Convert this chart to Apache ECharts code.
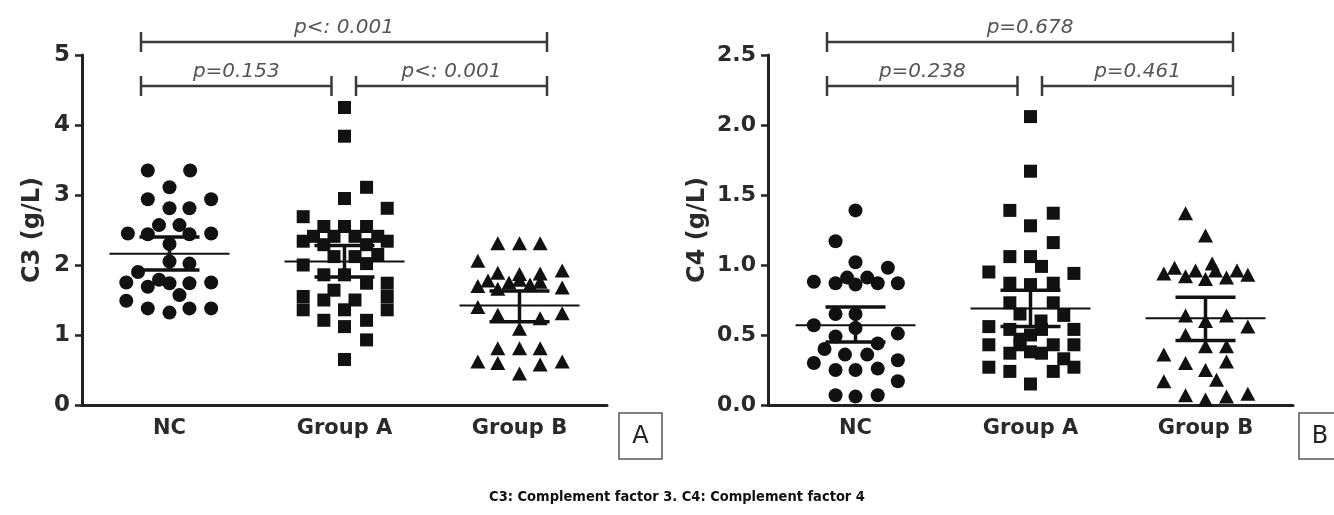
<!DOCTYPE html>
<html>
<head>
<meta charset="utf-8">
<script src="https://cdn.jsdelivr.net/npm/echarts@6/dist/echarts.min.js"></script>
<style>
  html, body { margin: 0; padding: 0; background: #fff; }
  #chart { width: 1334px; height: 515px; }
</style>
</head>
<body>
<div id="chart"></div>
<script>
// ---------- data ----------
const categories = ['NC', 'Group A', 'Group B'];

// [horizontal jitter (fraction of a category), value]
const c3NC = [
  [-0.124,3.35],[0.118,3.35],[0,3.11],[-0.124,2.94],[0.238,2.94],[0,2.81],[0.114,2.81],
  [-0.06,2.57],[0.057,2.57],[-0.238,2.45],[-0.124,2.44],[0.114,2.44],[0.238,2.45],
  [0,2.30],[0.114,2.02],[0,2.05],[-0.18,1.90],[-0.247,1.75],[-0.06,1.79],[-0.124,1.69],
  [0,1.74],[0.114,1.74],[0.238,1.75],[0.057,1.57],[-0.247,1.49],[-0.124,1.38],[0,1.32],
  [0.114,1.38],[0.238,1.38]
];
const c3A = [
  [0,4.25],[0,3.84],[0.126,3.11],[0,2.95],[0.244,2.81],[-0.236,2.69],
  [-0.118,2.55],[0,2.55],[0.126,2.55],
  [-0.177,2.41],[-0.06,2.41],[0.06,2.41],[0.19,2.41],
  [-0.236,2.34],[0.244,2.34],[-0.118,2.29],[0.126,2.29],
  [-0.06,2.12],[0.06,2.12],[0.19,2.15],
  [-0.236,2.00],[0.126,2.02],[-0.118,1.86],[0,1.86],[0.126,1.74],[0.244,1.74],[-0.06,1.64],
  [-0.236,1.55],[-0.236,1.36],[-0.118,1.50],[0.06,1.50],[0.244,1.55],[0,1.36],[0.244,1.36],
  [-0.118,1.21],[0.126,1.21],[0,1.12],[0.126,0.93],[0,0.65]
];
const c3B = [
  [-0.124,2.31],[0,2.31],[0.118,2.31],[-0.238,2.06],
  [-0.124,1.89],[0,1.87],[0.118,1.88],[0.244,1.92],
  [-0.238,1.70],[-0.18,1.78],[-0.124,1.66],[-0.06,1.75],[0,1.79],[0.06,1.72],[0.118,1.76],[0.244,1.68],
  [-0.238,1.40],[0.244,1.31],[-0.124,1.29],[0.118,1.24],[0,1.09],
  [-0.124,0.81],[0,0.81],[0.118,0.81],[-0.238,0.62],[0.244,0.62],[-0.124,0.60],[0.118,0.58],[0,0.45]
];
const c4NC = [
  [0,1.39],[-0.114,1.17],[0,1.02],[0.185,0.98],[-0.238,0.88],
  [-0.114,0.87],[-0.048,0.91],[0,0.86],[0.067,0.91],[0.127,0.87],[0.242,0.87],
  [-0.114,0.65],[0,0.65],[-0.238,0.57],[0,0.55],[0.242,0.51],[-0.114,0.49],[0.127,0.44],
  [-0.177,0.40],[-0.06,0.36],[0.067,0.36],[-0.238,0.30],[0.242,0.32],
  [-0.114,0.25],[0,0.25],[0.127,0.26],[0.242,0.17],[-0.114,0.07],[0,0.06],[0.127,0.07]
];
const c4A = [
  [0,2.06],[0,1.67],[-0.118,1.39],[0.13,1.37],[0,1.28],[0.13,1.16],
  [-0.118,1.06],[0,1.06],[0.063,0.99],[-0.238,0.95],[0.248,0.94],
  [-0.118,0.87],[0,0.86],[0.13,0.87],
  [-0.118,0.73],[0.13,0.73],[-0.06,0.65],[0.19,0.64],[0.06,0.60],
  [-0.238,0.56],[-0.118,0.54],[0.063,0.54],[0.248,0.54],[0,0.50],
  [-0.06,0.47],[-0.238,0.43],[-0.06,0.43],[0.13,0.43],[0.248,0.43],
  [-0.118,0.37],[0,0.38],[0.063,0.37],[0.19,0.33],
  [-0.238,0.27],[0.248,0.27],[-0.118,0.24],[0.13,0.24],[0,0.15]
];
const c4B = [
  [-0.114,1.37],[0,1.21],
  [-0.238,0.94],[-0.177,0.98],[-0.114,0.92],[-0.057,0.96],[0,0.90],[0.038,1.01],[0.057,0.96],[0.12,0.91],[0.18,0.96],[0.242,0.93],
  [-0.114,0.64],[0.12,0.64],[0,0.60],[0.242,0.56],[-0.114,0.50],[0,0.42],[0.12,0.42],
  [-0.238,0.36],[0.12,0.31],[-0.114,0.30],[0,0.25],[0.063,0.18],[-0.238,0.17],
  [-0.114,0.07],[0,0.04],[0.12,0.06],[0.242,0.08]
];

// [mean, lower, upper] per category
const c3Stats = [[2.16,1.93,2.40],[2.05,1.83,2.28],[1.42,1.19,1.63]];
const c4Stats = [[0.57,0.45,0.70],[0.69,0.56,0.82],[0.62,0.46,0.77]];

// significance brackets: [from, to, text]
const c3Pairs = [['NC','Group B','p<: 0.001'],['NC','Group A','p=0.153'],['Group A','Group B','p<: 0.001']];
const c4Pairs = [['NC','Group B','p=0.678'],['NC','Group A','p=0.238'],['Group A','Group B','p=0.461']];

const c3Ticks = { min: 0, max: 5, interval: 1 };
const c4Ticks = { min: 0, max: 2.5, interval: 0.5 };

// ---------- styles ----------
const FONT = '"DejaVu Sans", "Liberation Sans", Arial, sans-serif';
const INK = '#111111';
const symbols = ['circle', 'rect', 'triangle'];
const symbolSizes = [14, 13, [15, 14]];

const chart = echarts.init(document.getElementById('chart'), null, { renderer: 'canvas' });

function catAxis(grid) {
  return {
    gridIndex: grid, type: 'category', data: categories, boundaryGap: true,
    axisLine: { lineStyle: { color: '#222', width: 3 } },
    axisTick: { alignWithLabel: true, length: 7, lineStyle: { color: '#222', width: 2.5 } },
    axisLabel: { margin: 13, color: '#2a2a2a', fontFamily: FONT, fontWeight: 'bold', fontSize: 21 },
    splitLine: { show: false }
  };
}
function valAxisX(grid) {
  return { gridIndex: grid, type: 'value', min: 0, max: 3, show: false };
}
function yAxis(grid, ticks, name, gap, fontSize, dec) {
  return {
    gridIndex: grid, type: 'value', min: ticks.min, max: ticks.max, interval: ticks.interval,
    name: name, nameLocation: 'middle', nameGap: gap, nameRotate: 90,
    nameTextStyle: { color: '#2a2a2a', fontFamily: FONT, fontWeight: 'bold', fontSize: 24 },
    axisLine: { show: true, lineStyle: { color: '#222', width: 3 } },
    axisTick: { show: true, length: 7, lineStyle: { color: '#222', width: 2.5 } },
    axisLabel: { margin: 12, color: '#2a2a2a', fontFamily: FONT, fontWeight: 'bold', fontSize: fontSize,
      formatter: v => v.toFixed(dec) },
    splitLine: { show: false }
  };
}

function scatterSeries(data, cat, xIdx, yIdx) {
  return {
    type: 'scatter', xAxisIndex: xIdx, yAxisIndex: yIdx, silent: true,
    symbol: symbols[cat], symbolSize: symbolSizes[cat],
    itemStyle: { color: INK, opacity: 1 },
    data: data.map(d => [cat + 0.5 + d[0], d[1]]),
    z: 2
  };
}

function statSeries(stats, xIdx, yIdx) {
  return {
    type: 'custom', xAxisIndex: xIdx, yAxisIndex: yIdx, silent: true, z: 3,
    data: stats.map((s, i) => [i + 0.5, s[0], s[1], s[2]]),
    encode: { x: 0, y: 1 },
    renderItem: function (params, api) {
      const x = api.value(0);
      const m = api.coord([x, api.value(1)]);
      const lo = api.coord([x, api.value(2)]);
      const hi = api.coord([x, api.value(3)]);
      const st = { stroke: INK, lineWidth: 3.5 };
      return { type: 'group', children: [
        { type: 'line', shape: { x1: m[0] - 60, y1: m[1], x2: m[0] + 60, y2: m[1] }, style: { stroke: INK, lineWidth: 2 } },
        { type: 'line', shape: { x1: m[0], y1: hi[1], x2: m[0], y2: lo[1] }, style: st },
        { type: 'line', shape: { x1: m[0] - 30, y1: hi[1], x2: m[0] + 30, y2: hi[1] }, style: st },
        { type: 'line', shape: { x1: m[0] - 30, y1: lo[1], x2: m[0] + 30, y2: lo[1] }, style: st }
      ] };
    }
  };
}

function bracketSeries(pairs, ticks, xIdx, yIdx) {
  return {
    type: 'custom', xAxisIndex: xIdx, yAxisIndex: yIdx, silent: true, clip: false, z: 4,
    data: pairs.map(p => [categories.indexOf(p[0]) + 0.5, ticks.max]),
    encode: { x: 0, y: 1 },
    renderItem: function (params, api) {
      const p = pairs[params.dataIndex];
      const a = categories.indexOf(p[0]), b = categories.indexOf(p[1]);
      const pa = api.coord([a + 0.5, ticks.max]);
      const pb = api.coord([b + 0.5, ticks.max]);
      const top = (b - a) === 2;
      const y = top ? pa[1] - 13 : pa[1] + 31;
      const x1 = pa[0] + (a === 0 ? -28.5 : 11.5);
      const x2 = pb[0] + (b === 2 ? 27.5 : -13);
      const st = { stroke: '#3a3a3a', lineWidth: 2.5 };
      return { type: 'group', children: [
        { type: 'line', shape: { x1: x1, y1: y, x2: x2, y2: y }, style: st },
        { type: 'line', shape: { x1: x1, y1: y - 10, x2: x1, y2: y + 10 }, style: st },
        { type: 'line', shape: { x1: x2, y1: y - 10, x2: x2, y2: y + 10 }, style: st },
        { type: 'text', style: { text: p[2], x: (x1 + x2) / 2, y: y - 4, align: 'center', verticalAlign: 'bottom',
          font: 'italic 20px ' + FONT, fill: '#555' } }
      ] };
    }
  };
}

const option = {
  backgroundColor: '#ffffff',
  animation: false,
  grid: [
    { left: 82, top: 55, width: 525, height: 350 },
    { left: 768, top: 55, width: 525, height: 350 }
  ],
  xAxis: [catAxis(0), valAxisX(0), catAxis(1), valAxisX(1)],
  yAxis: [
    yAxis(0, c3Ticks, 'C3 (g/L)', 37, 23, 0),
    yAxis(1, c4Ticks, 'C4 (g/L)', 58, 22, 1)
  ],
  series: [
    scatterSeries(c3NC, 0, 1, 0),
    scatterSeries(c3A, 1, 1, 0),
    scatterSeries(c3B, 2, 1, 0),
    statSeries(c3Stats, 1, 0),
    bracketSeries(c3Pairs, c3Ticks, 1, 0),
    scatterSeries(c4NC, 0, 3, 1),
    scatterSeries(c4A, 1, 3, 1),
    scatterSeries(c4B, 2, 3, 1),
    statSeries(c4Stats, 3, 1),
    bracketSeries(c4Pairs, c4Ticks, 3, 1)
  ],
  graphic: [
    { type: 'rect', shape: { x: 619, y: 413, width: 43, height: 46 }, style: { fill: 'none', stroke: '#555', lineWidth: 1.5 } },
    { type: 'text', style: { text: 'A', x: 640.5, y: 437, align: 'center', verticalAlign: 'middle', font: '24px ' + FONT, fill: '#222' } },
    { type: 'rect', shape: { x: 1299, y: 413, width: 44, height: 46 }, style: { fill: 'none', stroke: '#555', lineWidth: 1.5 } },
    { type: 'text', style: { text: 'B', x: 1320, y: 437, align: 'center', verticalAlign: 'middle', font: '24px ' + FONT, fill: '#222' } },
    { type: 'text', style: { text: 'C3: Complement factor 3. C4: Complement factor 4', x: 677, y: 497, align: 'center', verticalAlign: 'middle',
      font: 'bold 14.5px "Liberation Sans Narrow", "DejaVu Sans Condensed", sans-serif', fill: '#111' } }
  ]
};
chart.setOption(option);
</script>
</body>
</html>
